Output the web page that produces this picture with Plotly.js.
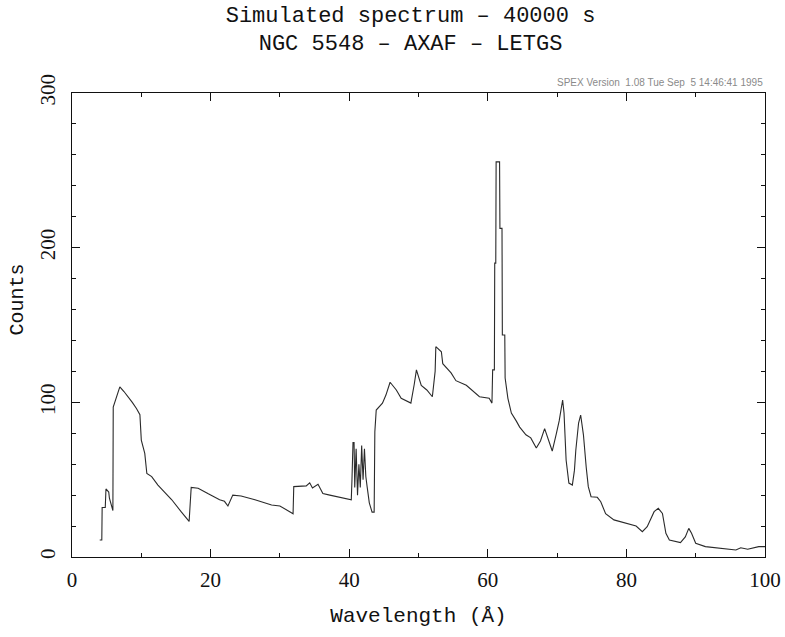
<!DOCTYPE html>
<html>
<head>
<meta charset="utf-8">
<script src="https://cdn.plot.ly/plotly-3.0.1.min.js"></script>
<style>html,body{margin:0;padding:0;background:#fff;}#chart{width:785px;height:637px;}</style>
</head>
<body>
<div id="chart"></div>
<script>
// Wavelength (Angstrom) and counts
const wavelength = [4.0,4.3,4.35,4.8,4.9,5.3,5.4,5.8,5.9,5.95,6.4,6.9,7.5,8.1,8.7,9.3,9.8,10.0,10.5,10.8,
11.5,12.4,13.4,14.4,15.8,16.9,17.2,18.2,19.6,21.3,22.0,22.5,23.2,24.4,26.4,28.8,30.0,31.9,32.0,33.8,
34.3,34.7,35.5,36.2,37.2,38.8,40.3,40.4,40.55,40.7,40.8,41.0,41.2,41.4,41.6,41.8,42.0,42.2,42.4,42.6,
42.9,43.3,43.6,43.7,43.9,44.8,45.3,45.9,46.8,47.5,48.9,49.4,49.7,50.4,51.2,52.0,52.4,52.5,53.3,53.5,
54.7,55.4,56.9,58.8,60.2,60.6,60.7,60.95,61.0,61.15,61.2,61.7,61.75,62.05,62.1,62.45,62.5,62.9,63.4,64.1,
64.6,65.5,66.2,67.0,67.6,68.2,68.7,69.3,69.9,70.3,70.8,71.0,71.3,71.7,72.2,72.5,72.7,73.1,73.4,73.8,
74.2,74.5,74.9,75.8,76.3,77.0,78.2,79.9,81.4,82.3,83.0,84.0,84.6,85.2,85.7,86.2,87.8,88.5,89.0,89.4,
90.0,91.4,94.3,95.8,96.5,97.5,99.1,100];
const counts = [11,11,32,32,44,42,38,32,30,97,103,110,107,103.6,100,96,92,75.6,67,54,
52,46.5,42,37,29,23,45,44.5,41,37,36,33,40,39.4,37,33.6,33,28,45.5,46,
48,44.6,47,41,40,38.5,37,50,74,74,45,70,40,60,45,72,50,70,52,45,
35,29,29,81,95,99.5,104.7,113,108,102.6,99.5,112,121,111,108,103.6,120,136,132.7,125,
119,114,111,103.6,102.6,99.5,121,121,190,190,255.5,255.5,212.5,212.5,143.5,143.5,115.7,102.6,93,88,
84,79,77,70.5,75,83,76,68.5,80,88,101.5,93,62.7,47.8,46.5,56,69,86.6,91.8,79,
58,45.5,39,38.6,35.7,28,24,21.8,20,16.4,19.6,29.3,31.5,28.2,15.3,11,9.3,13,18.5,15.3,
8.9,6.7,5,4.5,6,5,6.7,6.7];
const xTicks = [0,20,40,60,80,100];
const yTicks = [0,100,200,300];
const titleLines = ["Simulated spectrum \u2013 40000 s", "NGC 5548 \u2013 AXAF \u2013 LETGS"];
const stamp = "SPEX Version \u00a01.08 Tue Sep \u00a05 14:46:41 1995";

const monoFont = 'Liberation Mono, DejaVu Sans Mono, monospace';

const trace = {
  x: wavelength, y: counts, type: 'scatter', mode: 'lines',
  line: {color: '#2a2a2a', width: 1.1, shape: 'linear'},
  hoverinfo: 'skip', showlegend: false
};

const axisCommon = {
  showgrid: false, zeroline: false, showline: true, linecolor: '#111', linewidth: 1,
  mirror: 'allticks', ticks: 'inside', ticklen: 8, tickcolor: '#111', tickwidth: 1
};

const layout = {
  width: 785, height: 637,
  margin: {l: 72, r: 20, t: 93, b: 80},
  paper_bgcolor: '#fff', plot_bgcolor: '#fff',
  title: {
    text: titleLines.join('<br>'),
    font: {family: monoFont, size: 22, color: '#111'},
    x: 0.523, xref: 'container', xanchor: 'center',
    y: 0.966, yref: 'container', yanchor: 'top'
  },
  xaxis: Object.assign({}, axisCommon, {
    range: [0, 100], tickvals: xTicks, ticktext: xTicks.map(String),
    tickfont: {family: 'Liberation Serif, serif', size: 21, color: '#111'},
    ticklabelstandoff: 4,
    minor: {dtick: 10, tick0: 0, ticks: 'inside', ticklen: 4, tickcolor: '#111'},
    title: {text: 'Wavelength (\u00c5)', standoff: 16,
      font: {family: monoFont, size: 21, color: '#111'}}
  }),
  yaxis: Object.assign({}, axisCommon, {
    range: [0, 300], tickvals: yTicks, ticktext: yTicks.map(String),
    tickangle: -90,
    tickfont: {family: 'Liberation Serif, serif', size: 21, color: '#111'},
    ticklabelstandoff: 8,
    minor: {dtick: 20, tick0: 0, ticks: 'inside', ticklen: 4, tickcolor: '#111'}
  }),
  annotations: [{
    text: stamp, xref: 'paper', yref: 'paper', x: 1, y: 1,
    xanchor: 'right', yanchor: 'bottom', yshift: 3, showarrow: false,
    font: {family: 'Liberation Sans, sans-serif', size: 10, color: '#8a8a8a'}
  }, {
    text: 'Counts', xref: 'paper', yref: 'paper', x: 0, y: 0.555,
    xanchor: 'center', yanchor: 'middle', xshift: -55, textangle: -90, showarrow: false,
    font: {family: monoFont, size: 20, color: '#111'}
  }]
};

Plotly.newPlot('chart', [trace], layout, {displayModeBar: false, staticPlot: true});
</script>
</body>
</html>
